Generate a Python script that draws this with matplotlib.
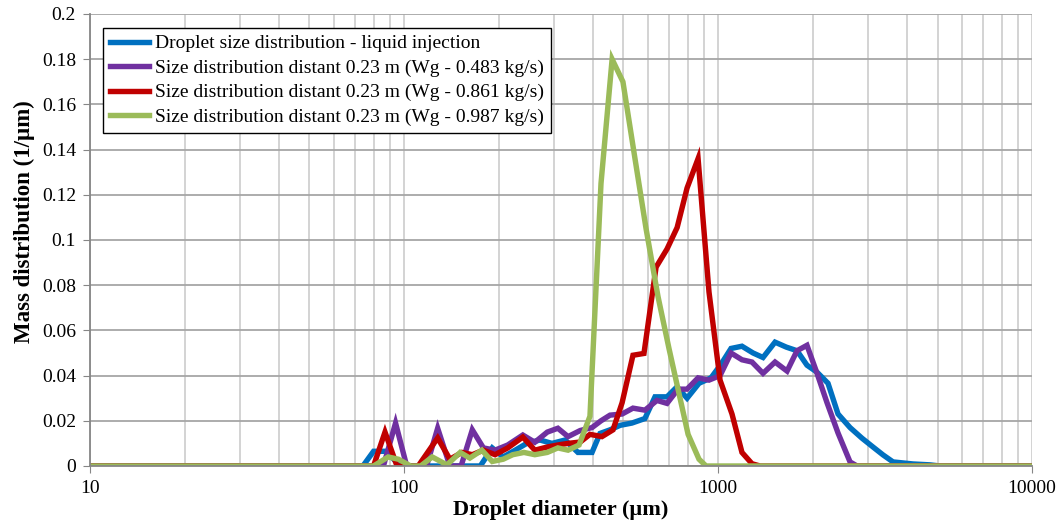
import matplotlib
matplotlib.use("Agg")
import matplotlib.pyplot as plt
from matplotlib.ticker import FixedLocator, NullFormatter

plt.rcParams['font.family'] = ['Liberation Serif', 'DejaVu Serif']

# droplet diameters (um) and mass distributions (1/um)
d_liquid = [10, 74, 80, 88, 97, 175, 191, 207, 226, 246, 271, 296, 326, 358, 397,
            421, 453, 488, 532, 585, 630, 688, 740, 797, 870, 950, 1022, 1100, 1192,
            1293, 1391, 1519, 1650, 1785, 1920, 2067, 2240, 2411, 2633, 2874, 3116,
            3354, 3609, 4178, 4733, 5093, 10000]
m_liquid = [0, 0, 0.0065, 0.0065, 0, 0, 0.008, 0.004, 0.007, 0.010, 0.0115, 0.010,
            0.0115, 0.006, 0.006, 0.0144, 0.016, 0.018, 0.019, 0.021, 0.0306, 0.0306,
            0.035, 0.030, 0.0366, 0.039, 0.045, 0.052, 0.053, 0.050, 0.048, 0.0548,
            0.0526, 0.051, 0.0446, 0.0415, 0.0366, 0.023, 0.017, 0.0123, 0.0084,
            0.0049, 0.0018, 0.0009, 0.0005, 0, 0]

d_wg0483 = [10, 86, 94, 102, 118, 128, 140, 152, 165, 179, 195, 214, 239, 261, 286,
            309, 333, 364, 397, 424, 453, 495, 536, 585, 639, 688, 746, 797, 864, 936,
            1015, 1100, 1192, 1283, 1391, 1519, 1659, 1785, 1920, 2067, 2224, 2411,
            2633, 2772, 10000]
m_wg0483 = [0, 0, 0.019, 0, 0, 0.0167, 0, 0, 0.016, 0.008, 0.007, 0.0093, 0.0137,
            0.0105, 0.015, 0.0167, 0.013, 0.0157, 0.017, 0.020, 0.0225, 0.023, 0.0256,
            0.0247, 0.029, 0.0277, 0.034, 0.034, 0.039, 0.038, 0.040, 0.050, 0.047,
            0.046, 0.041, 0.046, 0.042, 0.051, 0.0534, 0.041, 0.028, 0.0146, 0.0018,
            0, 0]

d_wg0861 = [10, 80, 87, 95, 111, 128, 140, 153, 165, 179, 195, 214, 239, 261, 286,
            309, 333, 364, 391, 427, 463, 495, 536, 581, 635, 688, 741, 797, 864, 936,
            1015, 1108, 1192, 1283, 1361, 10000]
m_wg0861 = [0, 0, 0.015, 0, 0, 0.0124, 0.003, 0.006, 0.005, 0.007, 0.005, 0.008,
            0.0128, 0.007, 0.0084, 0.0093, 0.010, 0.0106, 0.014, 0.013, 0.016, 0.028,
            0.049, 0.0498, 0.088, 0.096, 0.1055, 0.123, 0.136, 0.077, 0.038, 0.023,
            0.006, 0.001, 0, 0]

d_wg0987 = [10, 80, 89, 96, 105, 113, 123, 137, 151, 162, 177, 191, 207, 222, 241,
            261, 286, 309, 333, 361, 391, 424, 460, 498, 544, 590, 644, 698, 757, 803,
            870, 916, 10000]
m_wg0987 = [0, 0, 0.004, 0.003, 0, 0, 0.004, 0.0005, 0.006, 0.0035, 0.007, 0.002,
            0.003, 0.005, 0.006, 0.005, 0.006, 0.008, 0.007, 0.0093, 0.022, 0.125,
            0.180, 0.170, 0.136, 0.105, 0.075, 0.052, 0.030, 0.014, 0.003, 0, 0]

labels = ["Droplet size distribution - liquid injection",
          "Size distribution distant 0.23 m (Wg - 0.483 kg/s)",
          "Size distribution distant 0.23 m (Wg - 0.861 kg/s)",
          "Size distribution distant 0.23 m (Wg - 0.987 kg/s)"]
colors = ["#0070C0", "#7030A0", "#C00000", "#9BBB59"]

fig = plt.figure(figsize=(10.61, 5.24), dpi=100)
ax = fig.add_axes([0.0848, 0.1107, 0.8879, 0.8626])

series = [(d_liquid, m_liquid), (d_wg0483, m_wg0483),
          (d_wg0861, m_wg0861), (d_wg0987, m_wg0987)]
for (x, y), lab, c in zip(series, labels, colors):
    ax.plot(x, y, color=c, lw=3.9, label=lab, solid_joinstyle='miter')

ax.set_xscale('log')
ax.set_xlim(10, 10000)
ax.set_ylim(0, 0.2)

# gridlines like the spreadsheet chart
minors = [m * 10 ** e for e in range(1, 4) for m in range(2, 10)]
ax.xaxis.set_minor_locator(FixedLocator(minors))
ax.xaxis.set_minor_formatter(NullFormatter())
ax.set_xticks([10, 100, 1000, 10000])
ax.set_xticklabels(["10", "100", "1000", "10000"])
yt = [i * 0.02 for i in range(11)]
ax.set_yticks(yt)
ax.set_yticklabels(["0", "0.02", "0.04", "0.06", "0.08", "0.1", "0.12", "0.14",
                    "0.16", "0.18", "0.2"])
ax.grid(which='both', axis='x', color='#D0D0D0', lw=1.3)
ax.grid(which='major', axis='y', color='#A6A6A6', lw=1.3)
ax.set_axisbelow(True)
for s in ['top', 'right']:
    ax.spines[s].set_visible(False)
for s in ['left', 'bottom']:
    ax.spines[s].set_color('#868686')
    ax.spines[s].set_linewidth(1.3)
ax.tick_params(axis='both', which='major', length=5, color='#868686',
               labelsize=14, pad=5)
ax.tick_params(axis='x', which='minor', length=0)

ax.set_xlabel("Droplet diameter (\u00b5m)", fontsize=16, fontweight='bold', labelpad=2)
ax.set_ylabel("Mass distribution (1/\u00b5m)", fontsize=16.5, fontweight='bold', labelpad=5)
ax.yaxis.set_label_coords(-0.058, 0.54)

leg = ax.legend(loc='upper left', bbox_to_anchor=(0.0138, 0.969), borderaxespad=0,
                fontsize=14, fancybox=False, framealpha=1, edgecolor='black',
                handlelength=2.0, handletextpad=0.35, labelspacing=0.35,
                borderpad=0.35)
leg.get_frame().set_linewidth(1.0)

fig.savefig("out.png", dpi=100)
